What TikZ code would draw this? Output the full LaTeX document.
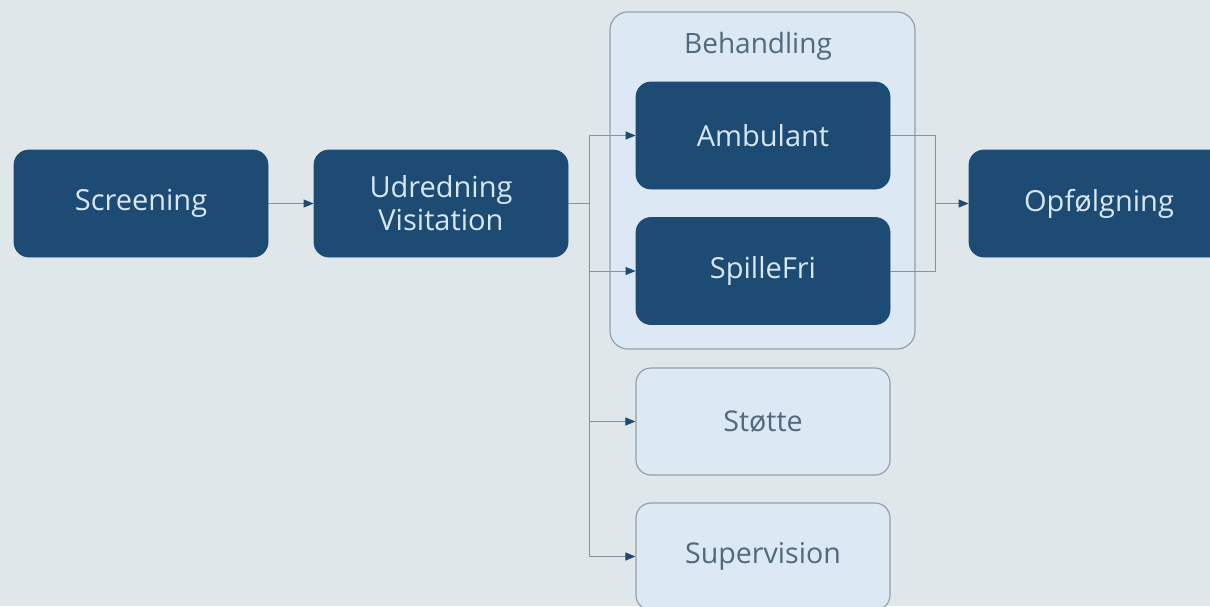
\documentclass[tikz,border=0pt]{standalone}
\usepackage{fontspec}
\setmainfont{Open Sans}
\usetikzlibrary{arrows.meta}

\definecolor{bgcol}{HTML}{E0E7EB}
\definecolor{navy}{HTML}{1D4B73}
\definecolor{paleblue}{HTML}{DCE8F3}
\definecolor{framegray}{HTML}{959FA7}
\definecolor{linegray}{HTML}{8C9197}
\definecolor{darktext}{HTML}{D8E7F5}
\definecolor{softtext}{HTML}{51697D}

\begin{document}
\begin{tikzpicture}[x=0.5pt,y=-0.5pt,
    darkbox/.style={draw=navy, fill=navy, rounded corners=7.5pt,
      minimum width=127pt, minimum height=53.5pt, text=darktext,
      align=center, font=\fontsize{14.5}{16.5}\selectfont},
    lightbox/.style={draw=framegray, line width=0.6pt, fill=paleblue,
      rounded corners=7.5pt, minimum width=127pt, minimum height=53.5pt,
      text=softtext, font=\fontsize{14.3}{16.5}\selectfont},
    group/.style={draw=framegray, line width=0.6pt, fill=paleblue,
      rounded corners=9pt, minimum width=152.5pt, minimum height=168.5pt},
    link/.style={draw=linegray, line width=0.5pt},
    flow/.style={link, -{Triangle[length=5pt, width=4pt, color=navy]}}]
    \useasboundingbox[fill=bgcol] (0,0) rectangle (1210,606);
    % Behandling container
    \node[group] (behandling) at (762.5,180.5) {};
    \node[text=softtext, font=\fontsize{14}{16}\selectfont] (behlabel) at (758,46) {Behandling};
    % boxes
    \node[darkbox] (screening) at (141,203.5) {Screening};
    \node[darkbox] (udredning) at (441,203.5) {Udredning\\Visitation};
    \node[darkbox] (ambulant) at (763,135.5) {Ambulant};
    \node[darkbox] (spillefri) at (763,271) {SpilleFri};
    \node[lightbox] (stotte) at (763,421.5) {Støtte};
    \node[lightbox] (supervision) at (763,556.5) {Supervision};
    \node[darkbox, minimum width=130pt] (opfolgning) at (1099,203.5) {Opfølgning};
    % branch points
    \coordinate (split) at (589,203.5);
    \coordinate (join) at (935,203.5);
    % connectors
    \draw[flow] (screening) -- (udredning);
    \draw[link] (udredning.east) -- (split);
    \draw[flow] (split) |- (ambulant.west);
    \draw[flow] (split) |- (spillefri.west);
    \draw[flow] (split) |- (stotte.west);
    \draw[flow] (split) |- (supervision.west);
    \draw[link] (ambulant.east) -| (join) |- (spillefri.east);
    \draw[flow] (join) -- (opfolgning.west);
\end{tikzpicture}
\end{document}
